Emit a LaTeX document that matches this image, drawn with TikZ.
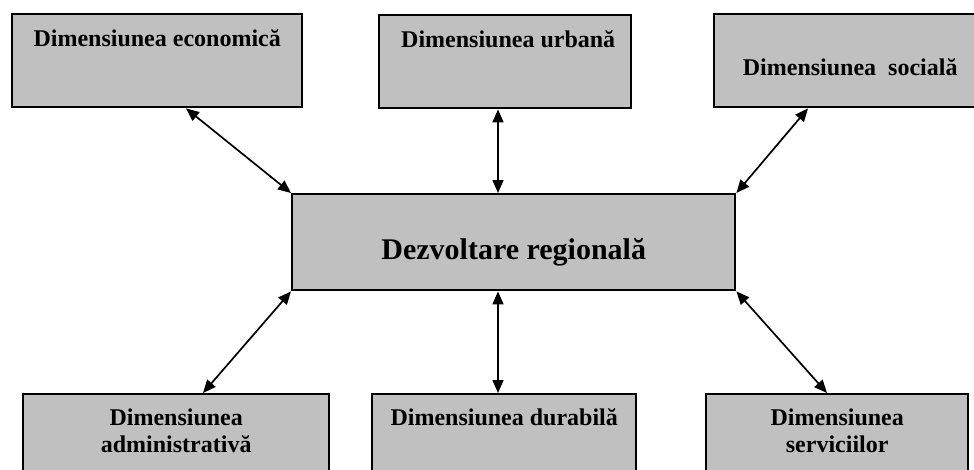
\documentclass[tikz,border=0pt]{standalone}
\usepackage{fontspec}
\setmainfont{Liberation Serif}
\usetikzlibrary{arrows.meta}
\definecolor{boxgray}{RGB}{192,192,192}
\begin{document}
\begin{tikzpicture}[x=1pt,y=-1pt,
  box/.style={draw=black, line width=2.4pt, fill=boxgray, inner sep=0pt, anchor=north west},
  lbl/.style={font=\bfseries\fontsize{24}{27}\selectfont, inner sep=0pt, anchor=base, align=center},
  big/.style={font=\bfseries\fontsize{30}{34}\selectfont, inner sep=0pt, anchor=base},
  link/.style={line width=1.7pt, {Triangle[length=13pt,width=11pt]}-{Triangle[length=13pt,width=11pt]}}]
\useasboundingbox (0,0) rectangle (974,469);
\clip (0,0) rectangle (974,469);

% boxes
\node[box, minimum width=290pt, minimum height=93pt] (eco) at (11,13) {};
\node[box, minimum width=252pt, minimum height=93pt] (urb) at (378,14) {};
\node[box, minimum width=272pt, minimum height=93pt] (soc) at (713,13) {};
\node[box, minimum width=443pt, minimum height=96pt] (reg) at (291,193) {};
\node[box, minimum width=306pt, minimum height=95pt] (adm) at (22,393) {};
\node[box, minimum width=264pt, minimum height=95pt] (dur) at (371,393) {};
\node[box, minimum width=262pt, minimum height=95pt] (srv) at (705,393) {};

% labels
\node[lbl] (teco) at ([yshift=-33pt]eco.north) {Dimensiunea economică};
\node[lbl] (turb) at ([xshift=3pt,yshift=-33pt]urb.north) {Dimensiunea urbană};
\node[lbl] (tsoc) at ([yshift=-62pt]soc.north) {Dimensiunea\ \ socială};
\node[big] (treg) at ([yshift=-66pt]reg.north) {Dezvoltare regională};
\node[lbl] (tadm1) at ([yshift=-32pt]adm.north) {Dimensiunea};
\node[lbl] (tadm2) at ([yshift=-59pt]adm.north) {administrativă};
\node[lbl] (tdur) at ([yshift=-32pt]dur.north) {Dimensiunea durabilă};
\node[lbl] (tsrv1) at ([yshift=-32pt]srv.north) {Dimensiunea};
\node[lbl] (tsrv2) at ([yshift=-59pt]srv.north) {serviciilor};

% connectors
\coordinate (mx) at (498,0);
\draw[link] ([xshift=175pt]eco.south west) -- (reg.north west);
\draw[link] (mx |- urb.south) -- (mx |- reg.north);
\draw[link] ([xshift=95pt]soc.south west) -- (reg.north east);
\draw[link] (reg.south west) -- ([xshift=181pt]adm.north west);
\draw[link] (mx |- reg.south) -- (mx |- dur.north);
\draw[link] (reg.south east) -- ([xshift=122pt]srv.north west);
\end{tikzpicture}
\end{document}
